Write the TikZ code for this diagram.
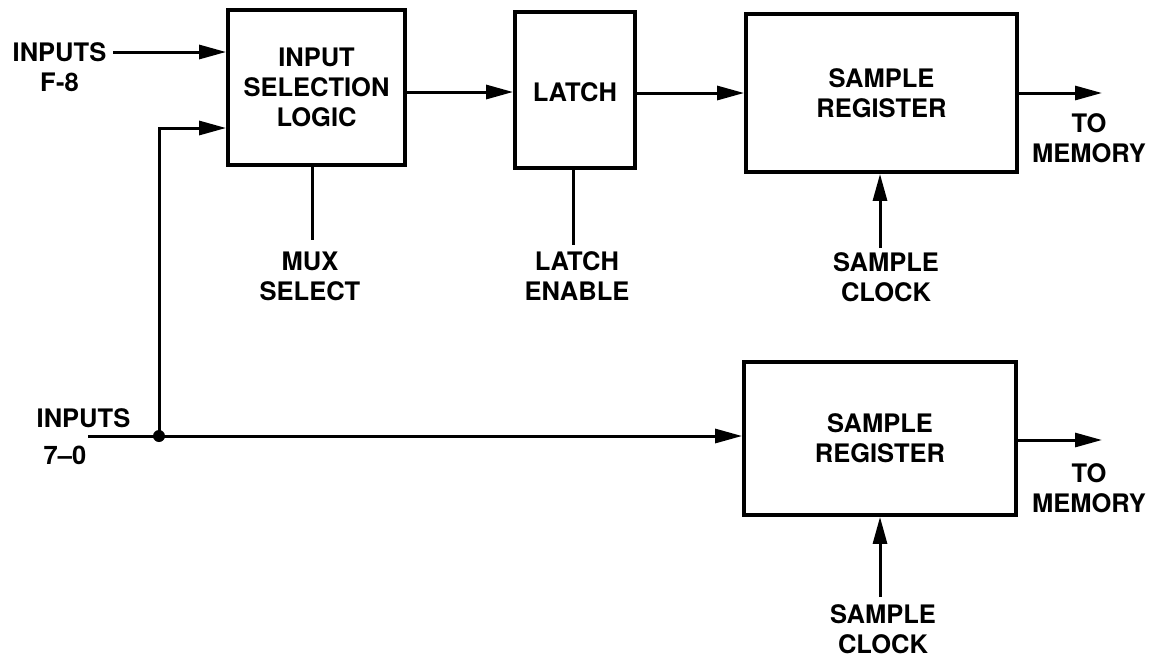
\documentclass[tikz,border=0pt]{standalone}
\usepackage{fontspec}
\setmainfont{TeX Gyre Heros}
\usetikzlibrary{arrows.meta}
\begin{document}
\begin{tikzpicture}[x=1pt,y=-1pt,
  every node/.style={font=\fontsize{25.5}{30}\selectfont\bfseries, align=center, inner sep=0pt},
  blk/.style={draw, line width=3.8pt, line join=miter},
  wire/.style={line width=3pt},
  arr/.style={wire, -{Triangle[length=27pt,width=14pt]}}]
\useasboundingbox (0,0) rectangle (1154,657);
% blocks
\node[blk, minimum width=177pt, minimum height=155pt] (isl) at (316.5,87.5) {INPUT\\SELECTION\\LOGIC};
\node[blk, minimum width=120pt, minimum height=156pt] (latch) at (575,90) {};
\node (latchtxt) at (575,92) {LATCH};
\node[blk, minimum width=271pt, minimum height=158pt] (sr1) at (881.5,93) {SAMPLE\\REGISTER};
\node[blk, minimum width=272pt, minimum height=153pt] (sr2) at (880,438.5) {SAMPLE\\REGISTER};
% labels
\node (inf8) at (59.5,67) {INPUTS\\F-8};
\node (in70a) at (83.5,418) {INPUTS};
\node (in70b) at (65,455) {7--0};
\node (mux) at (310,276) {MUX\\SELECT};
\node (len) at (577,276) {LATCH\\ENABLE};
\node (clk1) at (886,277) {SAMPLE\\CLOCK};
\node (clk2) at (883,629) {SAMPLE\\CLOCK};
\node (mem1) at (1089,138) {TO\\MEMORY};
\node (mem2) at (1089,488) {TO\\MEMORY};
% coordinates
\coordinate (f8start) at (113,52);
\coordinate (in70start) at (88,436);
\coordinate (junc) at (159,436);
\coordinate (bend) at (159,128);
\coordinate (muxend) at (312,240);
\coordinate (lenend) at (573,245);
\coordinate (clk1start) at (880,248);
\coordinate (clk2start) at (880,597);
\coordinate (out1) at (1102,93);
\coordinate (out2) at (1102,440);
% connectors
\draw[arr] (f8start) -- (f8start -| isl.west);
\draw[wire] (in70start) -- (junc);
\draw[arr] (junc) -- (bend) -- (bend -| isl.west);
\draw[arr] (junc) -- (junc -| sr2.west);
\fill (junc) circle (6pt);
\draw[arr] (isl.east |- 0,92) -- (latch.west |- 0,92);
\draw[arr] (latch.east |- 0,93) -- (sr1.west |- 0,93);
\draw[wire] (muxend |- isl.south) -- (muxend);
\draw[wire] (lenend |- latch.south) -- (lenend);
\draw[arr] (clk1start) -- (clk1start |- sr1.south);
\draw[arr] (clk2start) -- (clk2start |- sr2.south);
\draw[arr] (sr1.east |- out1) -- (out1);
\draw[arr] (sr2.east |- out2) -- (out2);
\end{tikzpicture}
\end{document}
